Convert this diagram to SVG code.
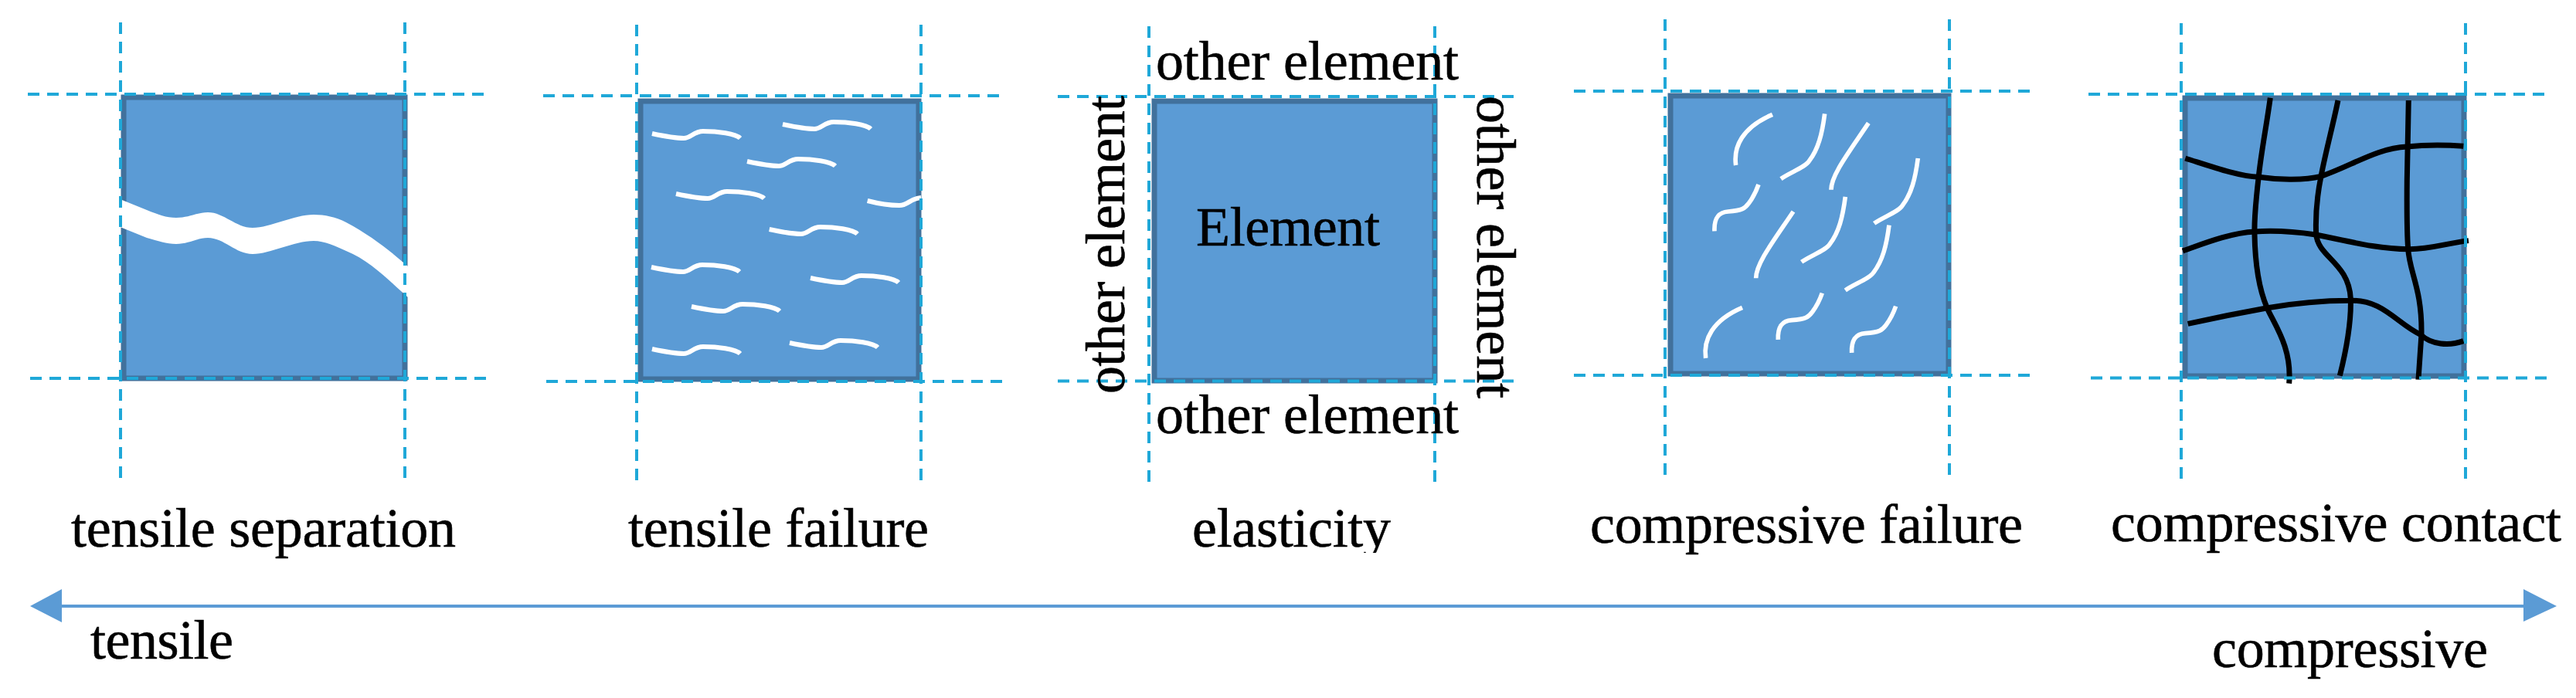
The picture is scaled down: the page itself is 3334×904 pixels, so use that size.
<svg xmlns="http://www.w3.org/2000/svg" width="3334" height="904" viewBox="0 0 3334 904">
<style>
.box{fill:#5b9bd5;stroke:#41719c;stroke-width:7}
.g{stroke:#1fa8d8;stroke-width:4;stroke-dasharray:15 10;fill:none}
.c{fill:none;stroke:#fff;stroke-width:6}
.b{fill:none;stroke:#000;stroke-width:21}
.t{font-family:"Liberation Serif","Times New Roman",serif;font-size:72px;fill:#000;stroke:#000;stroke-width:.6}
</style>
<defs>
<path id="w" d="M0 0C14 3 28 6 41 6C50 6 54 -3 66 -3C85 -3 108 0 114 6"/>
<path id="a" d="M320 342C310 270 345 195 462 145"/>
<path id="k" d="M495 395C530 370 590 350 605 325C640 280 655 220 665 142"/>
<path id="s" d="M237 598C235 550 250 525 290 522C345 518 355 510 370 490C385 470 400 440 408 417"/>
<path id="d" d="M690 437C690 380 760 290 835 178"/>
<clipPath id="cl"><rect x="1500" y="640" width="340" height="76"/></clipPath>
</defs>
<rect width="3334" height="904" fill="#fff"/>
<g id="tensile-separation">
<rect class="box" x="160" y="126" width="364" height="364"/>
<path d="M153 257L190 272C205 278 215 282 228 282C245 282 255 275 269 275C290 275 305 295 327 295C350 295 380 278 406 278C420 278 435 281 448 288C480 305 505 325 528 345V385C505 365 480 338 448 325C435 319 420 312 406 312C380 312 350 329 327 329C305 329 290 308 269 308C255 308 245 316 228 316C215 316 205 312 190 308L153 293Z" fill="#fff"/>
<path class="g" d="M36 122H630M39 490H633M156 29V622M524 29V622"/>
<text class="t" x="92" y="708" textLength="498">tensile separation</text>
</g>
<g id="tensile-failure">
<rect class="box" x="829" y="131" width="360" height="360"/>
<g class="c">
<use href="#w" x="844" y="173"/><use href="#w" x="1013" y="161"/><use href="#w" x="967" y="209"/><use href="#w" x="875" y="251"/><use href="#w" x="995.700" y="297"/><use href="#w" x="843" y="346"/><use href="#w" x="1049" y="360"/><use href="#w" x="895" y="397"/><use href="#w" x="844" y="452"/><use href="#w" x="1022" y="444"/>
<path d="M1122.700 260C1138 264 1153 266 1164 266C1175 266 1178 257 1192 256"/>
</g>
<path class="g" d="M703 124H1303M707 494H1303M824 32V628M1192 32V628"/>
<text class="t" x="813" y="708" textLength="389">tensile failure</text>
</g>
<g id="elasticity">
<rect class="box" x="1494" y="131" width="363" height="362"/>
<path class="g" d="M1369 125H1963M1369 493.500H1963M1487 34V627M1857 34V627"/>
<text class="t" x="1496" y="103" textLength="392">other element</text>
<text class="t" x="1496" y="561" textLength="392">other element</text>
<text class="t" transform="translate(1455,510) rotate(-90)" textLength="386">other element</text>
<text class="t" transform="translate(1912,124) rotate(90)" textLength="392">other element</text>
<text class="t" x="1548" y="318" textLength="238">Element</text>
<text class="t" x="1543" y="708" textLength="257" clip-path="url(#cl)">elasticity</text>
</g>
<g id="compressive-failure">
<rect class="box" x="2162" y="124" width="360" height="360"/>
<g class="c" transform="translate(2140,100) scale(.3333)" style="stroke-width:17">
<use href="#a"/><use href="#a" x="-117" y="750"/>
<use href="#k"/><use href="#k" x="80" y="323"/><use href="#k" x="250" y="433"/><use href="#k" x="362" y="173"/>
<use href="#s"/><use href="#s" x="247" y="422"/><use href="#s" x="533" y="473"/>
<use href="#d"/><use href="#d" x="-292" y="344"/>
</g>
<path class="g" d="M2037 118H2630M2037 486H2630M2155 25V620M2523 25V620"/>
<text class="t" x="2058" y="703" textLength="560">compressive failure</text>
</g>
<g id="compressive-contact">
<rect class="box" x="2828" y="127" width="361" height="360"/>
<g class="b" transform="translate(2810,100) scale(.3333)">
<path d="M385 80C370 190 350 290 340 385C330 470 322 540 324 610C326 720 340 820 372 895C400 960 470 1050 458 1190"/>
<path d="M648 90C630 180 600 290 582 385C565 470 560 540 563 610C570 700 690 720 697 860C700 950 680 1060 655 1160"/>
<path d="M922 90L916 400C915 520 915 600 920 665C925 760 975 820 972 1000L960 1175"/>
<path d="M55 315C150 345 260 385 340 388C420 400 520 400 582 385C700 345 800 275 915 270C990 262 1060 262 1135 268"/>
<path d="M45 675C130 645 230 605 325 600C400 595 480 600 562 612C680 635 800 668 920 668C1000 670 1070 645 1155 635"/>
<path d="M65 958C170 935 270 915 370 897C480 878 590 868 695 868C820 862 880 960 968 1000C1010 1040 1080 1045 1135 1025"/>
</g>
<path class="g" d="M2703 122H3296M2706 489.500H3299M2823 30V625M3191 30V625"/>
<text class="t" x="2732" y="701" textLength="583">compressive contact</text>
</g>
<g id="connectors">
<path d="M80 785H3266" stroke="#5b9bd5" stroke-width="4" fill="none"/>
<path d="M39 785L80 763V806Z" fill="#5b9bd5"/>
<path d="M3309 785L3266 763V805Z" fill="#5b9bd5"/>
</g>
<g id="axis-labels">
<text class="t" x="117" y="853" textLength="185">tensile</text>
<text class="t" x="2863" y="864" textLength="357">compressive</text>
</g>
</svg>
